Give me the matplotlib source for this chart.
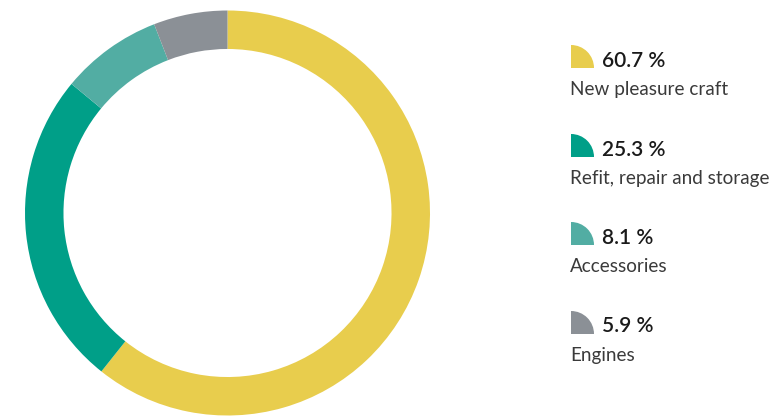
import matplotlib.pyplot as plt
from matplotlib.patches import Wedge

# Share of turnover by segment
segments = ["New pleasure craft", "Refit, repair and storage", "Accessories", "Engines"]
shares = [60.7, 25.3, 8.1, 5.9]
colors = ["#E8CD4D", "#009F88", "#52ADA3", "#8B9096"]

fig = plt.figure(figsize=(7.76, 4.17), dpi=100)
W, H = 776, 417

# Donut chart, placed in pixel units
cx, cy, r = 227.5, 213, 202.5
ax = fig.add_axes([(cx - r) / W, (H - cy - r) / H, 2 * r / W, 2 * r / H])
ax.pie(shares, colors=colors, startangle=90, counterclock=False,
       radius=1, wedgeprops=dict(width=0.19, linewidth=0))
ax.set_xlim(-1, 1)
ax.set_ylim(-1, 1)
ax.set_aspect("equal")
ax.axis("off")

# Legend drawn on an overlay axes in pixel coordinates
lg = fig.add_axes([0, 0, 1, 1])
lg.set_xlim(0, W)
lg.set_ylim(H, 0)
lg.axis("off")

row_top = [45, 134, 222, 311]
icon = 23
for y0, name, val, col in zip(row_top, segments, shares, colors):
    lg.add_patch(Wedge((571, y0 + icon), icon, 270, 360, color=col, linewidth=0))
    lg.text(602, y0 + icon / 2 + 4, f"{val:.1f} %", fontsize=15, fontweight="semibold",
            family="Lato", color="#1a1a1a", va="center", ha="left")
    lg.text(570, y0 + 44, name, fontsize=13.6, family="Lato", color="#3a3a3a",
            va="center", ha="left")

fig.savefig("out.png", dpi=100)
